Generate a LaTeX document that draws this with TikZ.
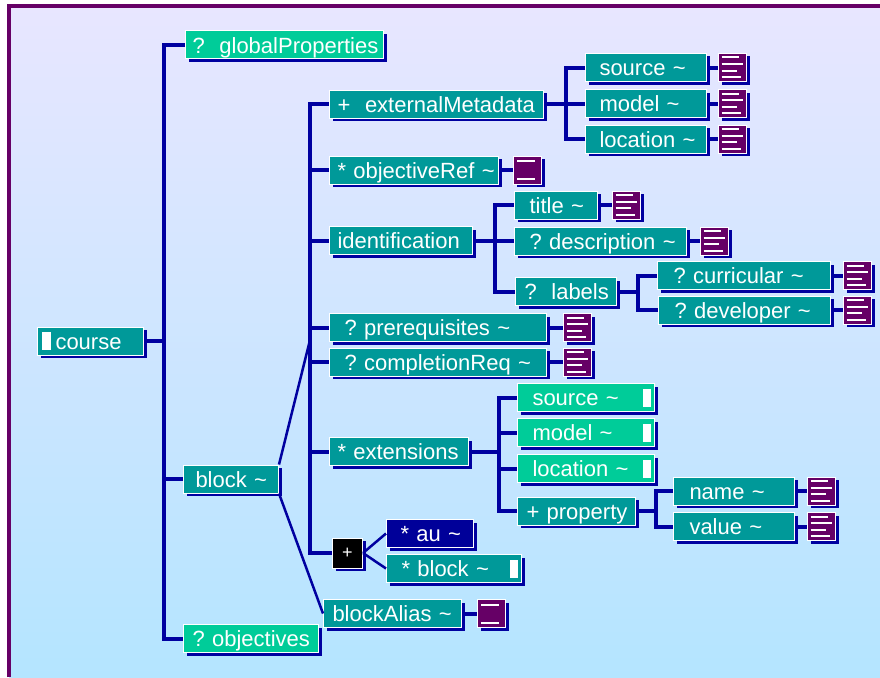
\documentclass[tikz,border=0pt]{standalone}
\usepackage{fontspec}
\setmainfont{Liberation Sans}
\usepackage{tikz}
\usetikzlibrary{positioning, shadows}

\definecolor{bgtop}{RGB}{232,230,255}
\definecolor{bgbot}{RGB}{180,229,255}
\definecolor{frame}{RGB}{102,0,102}
\definecolor{elteal}{RGB}{0,153,153}
\definecolor{elgreen}{RGB}{0,204,153}
\definecolor{elblue}{RGB}{0,0,153}
\definecolor{bluewire}{RGB}{0,0,160}
\definecolor{docpurple}{RGB}{102,0,102}

\newcommand{\tld}{\textasciitilde}
\frenchspacing

\begin{document}
\begin{tikzpicture}[
			x=1pt, y=-1pt,
			sh/.style = {drop shadow={shadow xshift=3pt, shadow yshift=-3pt, fill=bluewire, opacity=1}},
			el/.style = {draw=white, line width=1pt, fill=elteal, text=white, anchor=west, sh,
				minimum height=28pt, inner xsep=0pt, inner ysep=0pt, align=left,
				text height=19pt, text depth=3pt, font=\fontsize{22}{24}\selectfont},
			opt/.style = {el, fill=elgreen},
			bw/.style = {text width=#1pt},
			choice/.style = {draw=white, line width=1pt, fill=black, text=white, anchor=west, sh,
				minimum size=30pt, inner sep=0pt, font=\fontsize{18}{18}\selectfont},
			doc/.style = {draw=white, line width=1pt, fill=docpurple, sh, minimum size=28pt, inner sep=0pt,
				path picture={
					\foreach \yy/\ll in {4pt/17, 10.5pt/21, 17pt/15, 23.5pt/19}
						\draw[white, line width=2pt] ([xshift=3pt, yshift=-\yy]path picture bounding box.north west) -- ++(\ll,0);
				}},
			refdoc/.style = {doc, path picture={
					\foreach \yy in {5pt, 23pt}
						\draw[white, line width=2pt] ([xshift=3.5pt, yshift=-\yy]path picture bounding box.north west) -- ++(18,0);
				}},
			rbar/.style = {path picture={
					\fill[white] ([xshift=-12pt, yshift=-9pt]path picture bounding box.east) rectangle ([xshift=-4pt, yshift=9pt]path picture bounding box.east);
				}},
			lbar/.style = {path picture={
					\fill[white] ([xshift=4pt, yshift=-9pt]path picture bounding box.west) rectangle ([xshift=13pt, yshift=9pt]path picture bounding box.west);
				}},
			bus/.style = {draw=bluewire, line width=4pt},
			thinbus/.style = {draw=bluewire, line width=2.5pt}
		]
		\useasboundingbox (0,0) rectangle (880,677);
		\fill[white] (0,0) rectangle (880,677);
		\shade[top color=bgtop, bottom color=bgbot] (9,6) rectangle (880,677);
		\draw[frame, line width=4pt] (9,677) -- (9,6) -- (880,6);
		% The course level.
		\node[el, bw=106, lbar] (crs) at (37,341) {\hspace*{18pt}course};
		\node[opt, bw=198] (gp) at (185,45) {\hspace*{7pt}?\ \ globalProperties};
		\node[el, bw=95] (blk) at (183,479) {\hspace*{12pt}block \tld};
		\node[opt, bw=135] (obj) at (183,638.5) {\hspace*{9pt}? objectives};
		% The block level.
		\node[el, bw=214] (em) at (329,104) {\hspace*{8pt}+\ \ externalMetadata};
		\node[el, bw=169] (oref) at (329,170) {\hspace*{8pt}* objectiveRef \tld};
		\node[el, bw=143] (idt) at (329,240.5) {\hspace*{8pt}identification};
		\node[el, bw=217] (pre) at (329,327.5) {\hspace*{15pt}? prerequisites \tld};
		\node[el, bw=217] (cpl) at (329,362) {\hspace*{15pt}? completionReq \tld};
		\node[el, bw=139] (ext) at (329,451.5) {\hspace*{8pt}* extensions};
		\node[choice] (ch) at (332,553) {+};
		\node[el, fill=elblue, bw=87] (au) at (386,533.5) {\hspace*{14pt}* au \tld};
		\node[el, bw=135, rbar] (iblk) at (386,568.5) {\hspace*{15pt}* block \tld};
		\node[el, bw=138] (bal) at (323,613.5) {\hspace*{9pt}blockAlias \tld};
		% The leaves.
		\node[el, bw=121] (msrc) at (585,67.5) {\hspace*{14pt}source \tld};
		\node[el, bw=121] (mmod) at (585,103.5) {\hspace*{14pt}model \tld};
		\node[el, bw=121] (mloc) at (585,139) {\hspace*{14pt}location \tld};
		\node[el, bw=83] (ttl) at (514,205) {\hspace*{15pt}title \tld};
		\node[el, bw=172] (dsc) at (514,241) {\hspace*{15pt}? description \tld};
		\node[el, bw=101] (lbl) at (515,291.5) {\hspace*{9pt}?\ \ labels};
		\node[el, bw=173] (cur) at (657,275.5) {\hspace*{16pt}? curricular \tld};
		\node[el, bw=172] (dev) at (658,310) {\hspace*{16pt}? developer \tld};
		\node[opt, bw=137, rbar] (xsrc) at (517,397.5) {\hspace*{15pt}source \tld};
		\node[opt, bw=137, rbar] (xmod) at (517,432.5) {\hspace*{15pt}model \tld};
		\node[opt, bw=137, rbar] (xloc) at (517,468.5) {\hspace*{15pt}location \tld};
		\node[el, bw=118] (prp) at (517,511) {\hspace*{9pt}+ property};
		\node[el, bw=121] (nam) at (673,491) {\hspace*{16pt}name \tld};
		\node[el, bw=121] (val) at (673,526.5) {\hspace*{16pt}value \tld};
		% The document marks.
		\node[doc, right=11pt of msrc] (msrc-doc) {};
		\node[doc, right=11pt of mmod] (mmod-doc) {};
		\node[doc, right=11pt of mloc] (mloc-doc) {};
		\node[refdoc, right=14pt of oref] (oref-doc) {};
		\node[doc, right=14pt of ttl] (ttl-doc) {};
		\node[doc, right=13pt of dsc] (dsc-doc) {};
		\node[doc, right=12pt of cur] (cur-doc) {};
		\node[doc, right=12pt of dev] (dev-doc) {};
		\node[doc, right=16pt of pre] (pre-doc) {};
		\node[doc, right=16pt of cpl] (cpl-doc) {};
		\node[doc, right=12pt of nam] (nam-doc) {};
		\node[doc, right=12pt of val] (val-doc) {};
		\node[refdoc, right=15pt of bal] (bal-doc) {};
		% Bus positions.
		\coordinate (cbus) at (164,0);
		\coordinate (bbus) at (310,0);
		\coordinate (bhook) at (310,340);
		\coordinate (ebus) at (566,0);
		\coordinate (ibus) at (495,0);
		\coordinate (lbus) at (638,0);
		\coordinate (xbus) at (499,0);
		\coordinate (pbus) at (656,0);
		% Draw the course edges.
		\draw[bus] (gp.west) -- (gp.west -| cbus) -- (obj.west -| cbus) -- (obj.west);
		\draw[bus] (crs.east) -- (crs.east -| cbus);
		\draw[bus] (blk.west) -- (blk.west -| cbus);
		% Draw the block edges.
		\draw[thinbus] (blk.north east) -- (bhook);
		\draw[thinbus] (blk.south east) -- (bal.west);
		\draw[bus] (em.west) -- (em.west -| bbus) -- (ch.west -| bbus) -- (ch.west);
		\foreach \n in {oref, idt, pre, cpl, ext}
			\draw[bus] (\n.west -| bbus) -- (\n.west);
		\draw[thinbus] (ch.east) -- (au.west);
		\draw[thinbus] (ch.east) -- (iblk.west);
		% Draw the externalMetadata edges.
		\draw[bus] (em.east) -- (em.east -| ebus);
		\draw[bus] (msrc.west) -- (msrc.west -| ebus) -- (mloc.west -| ebus) -- (mloc.west);
		\draw[bus] (mmod.west -| ebus) -- (mmod.west);
		% Draw the identification edges.
		\draw[bus] (idt.east) -- (idt.east -| ibus);
		\draw[bus] (ttl.west) -- (ttl.west -| ibus) -- (lbl.west -| ibus) -- (lbl.west);
		\draw[bus] (dsc.west -| ibus) -- (dsc.west);
		\draw[bus] (lbl.east) -- (lbl.east -| lbus);
		\draw[bus] (cur.west) -- (cur.west -| lbus) -- (dev.west -| lbus) -- (dev.west);
		% Draw the extensions edges.
		\draw[bus] (ext.east) -- (ext.east -| xbus);
		\draw[bus] (xsrc.west) -- (xsrc.west -| xbus) -- (prp.west -| xbus) -- (prp.west);
		\draw[bus] (xmod.west -| xbus) -- (xmod.west);
		\draw[bus] (xloc.west -| xbus) -- (xloc.west);
		\draw[bus] (prp.east) -- (prp.east -| pbus);
		\draw[bus] (nam.west) -- (nam.west -| pbus) -- (val.west -| pbus) -- (val.west);
		% Draw the document edges.
		\foreach \n in {msrc, mmod, mloc, oref, ttl, dsc, cur, dev, pre, cpl, nam, val, bal}
			\draw[bus] (\n.east) -- (\n-doc.west);
	\end{tikzpicture}
\end{document}
